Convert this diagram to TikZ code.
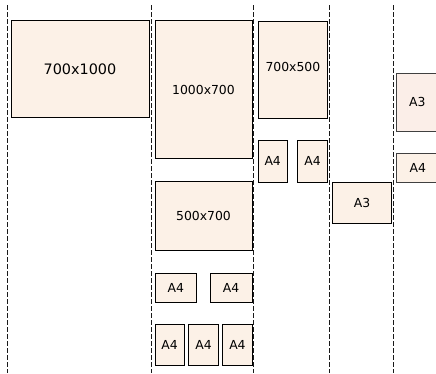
\documentclass[tikz,border=0pt]{standalone}
\usepackage{fontspec}
\setmainfont{DejaVu Sans}
\begin{document}
\begin{tikzpicture}[x=1pt,y=-1pt,
  sheet/.style={draw=black,line width=1pt,fill=sheetfill,inner sep=0pt,font=\fontsize{12.4}{14}\selectfont},
  divider/.style={draw=black!90,line width=1pt,dash pattern=on 4.5pt off 2.5pt}]
\definecolor{sheetfill}{RGB}{252,241,231}
\definecolor{sheetpink}{RGB}{251,238,232}
\useasboundingbox (0,0) rectangle (436,373);
\clip (0,0) rectangle (436,373);
% dividers
\foreach \i/\x in {1/7.5,2/151.5,3/253.7,4/329.7,5/393.7}{
  \coordinate (t\i) at (\x,5);
  \coordinate (b\i) at (\x,373);
  \draw[divider] (t\i) -- (b\i);
}
% column 1
\node[sheet,anchor=north west,minimum width=138pt,minimum height=97pt,font=\fontsize{14.4}{16}\selectfont] (s1) at (10.5,20) {700x1000};
% column 2
\node[sheet,anchor=north west,minimum width=97pt,minimum height=138pt] (s2) at (154.5,20) {1000x700};
\node[sheet,anchor=north west,minimum width=97pt,minimum height=69pt] (s3) at (154.5,181) {500x700};
\node[sheet,anchor=north west,minimum width=41.5pt,minimum height=29pt] (s4) at (154.5,272.7) {A4};
\node[sheet,anchor=north west,minimum width=42pt,minimum height=29pt] (s5) at (209.5,272.7) {A4};
\node[sheet,anchor=north west,minimum width=29.3pt,minimum height=41.6pt] (s6) at (154.5,323.7) {A4};
\node[sheet,anchor=north west,minimum width=29.3pt,minimum height=41.6pt] (s7) at (188.4,323.7) {A4};
\node[sheet,anchor=north west,minimum width=29.3pt,minimum height=41.6pt] (s8) at (222.3,323.7) {A4};
% column 3
\node[sheet,anchor=north west,minimum width=69.3pt,minimum height=96.7pt] (s9) at (257.7,21) {};
\node at ([yshift=3pt]s9.center) [font=\fontsize{12.4}{14}\selectfont] (l9) {700x500};
\node[sheet,anchor=north west,minimum width=29pt,minimum height=41.7pt] (s10) at (257.7,140) {A4};
\node[sheet,anchor=north west,minimum width=29.7pt,minimum height=41.7pt] (s11) at (297.3,140) {A4};
% column 4
\node[sheet,anchor=north west,minimum width=58.4pt,minimum height=41.6pt] (s12) at (332.3,181.7) {A3};
% column 5
\node[sheet,fill=sheetpink,draw=black!75,anchor=north west,minimum width=41pt,minimum height=58pt] (s13) at (396.3,72.7) {A3};
\node[sheet,draw=black!75,anchor=north west,minimum width=42pt,minimum height=29.6pt] (s14) at (396.3,152.7) {A4};
\end{tikzpicture}
\end{document}
